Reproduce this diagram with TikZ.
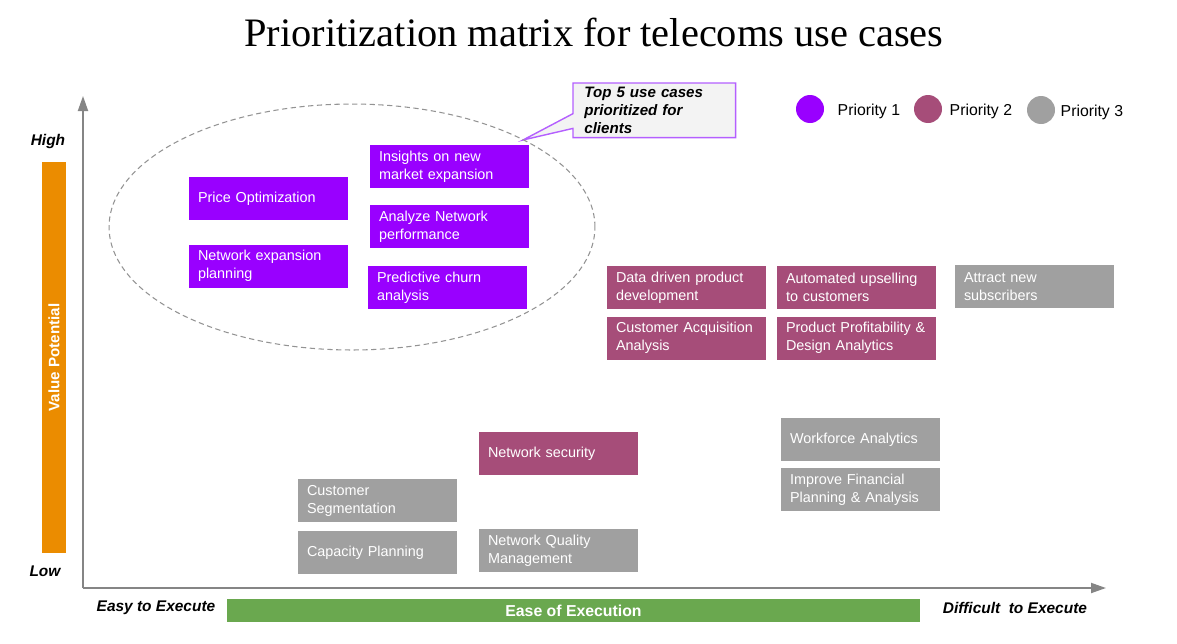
\documentclass[tikz,border=0pt]{standalone}
\usepackage{fontspec}
\setmainfont{Liberation Serif}
\setsansfont{Liberation Sans}
\usepackage{tikz}
\usetikzlibrary{positioning}
\usetikzlibrary{calc,backgrounds,arrows.meta}
\definecolor{prioone}{HTML}{9900FF}
\definecolor{priotwo}{HTML}{A64D79}
\definecolor{priothree}{HTML}{A0A0A0}
\definecolor{axisgray}{HTML}{858585}
\definecolor{valueorange}{HTML}{EB8C00}
\definecolor{easegreen}{HTML}{6AA84F}
\definecolor{calloutfill}{HTML}{F3F3F3}
\definecolor{calloutline}{HTML}{B45FFF}

\begin{document}
\begin{tikzpicture}[x=0.02cm,y=-0.02cm,>={Triangle[length=0.3cm,width=0.2cm]},
  usecase/.style={minimum width=3.18cm,minimum height=0.86cm,text width=2.82cm,
    inner xsep=0.18cm,inner ysep=0pt,align=left,text=white,
    font=\sffamily\fontsize{8.2}{10.2}\selectfont},
  prio1/.style={usecase,fill=prioone},
  prio2/.style={usecase,fill=priotwo},
  prio3/.style={usecase,fill=priothree},
  dot/.style={circle,minimum width=0.54cm,minimum height=0.56cm,inner sep=0pt},
  legendtext/.style={font=\sffamily\fontsize{9}{11}\selectfont,inner sep=0pt,yshift=-0.05cm},
  endlabel/.style={font=\sffamily\bfseries\itshape\fontsize{8.8}{10}\selectfont,inner sep=0pt},
  axis/.style={axisgray,line width=1.1pt}]
  \useasboundingbox (0,0) rectangle (1177,643);
  % title
  \node[font=\fontsize{23}{27}\selectfont] (title) at (594,32) {Prioritization matrix for telecoms use cases};
  % axes
  \coordinate (origin) at (83,588);
  \coordinate (ytip) at (83,96);
  \coordinate (xtip) at (1106,588);
  \draw[axis,->] (origin) -- (ytip);
  \draw[axis,->] (origin) -- (xtip);
  % axis bars and end labels
  \node[fill=valueorange,rotate=90,minimum width=7.82cm,minimum height=0.48cm,inner sep=0pt,
    text=white,font=\sffamily\bfseries\fontsize{8.6}{10}\selectfont] (value) at (54,357.5) {Value Potential};
  \node[fill=easegreen,minimum width=13.86cm,minimum height=0.46cm,inner sep=0pt,
    text=white,font=\sffamily\bfseries\fontsize{9}{10}\selectfont] (ease) at (573.5,610.5) {Ease of Execution};
  \node[endlabel] (high) at (48,141) {High};
  \node[endlabel] (low) at (45,571) {Low};
  \node[endlabel] (easy) at (156,608) {Easy to Execute};
  \node[endlabel] (difficult) at (1015,608) {Difficult~ to Execute};
  % legend
  \node[dot,fill=prioone] (dotone) at (810,109) {};
  \node[legendtext,right=0.26cm of dotone] (lblone) {Priority 1};
  \node[dot,fill=priotwo] (dottwo) at (928,109) {};
  \node[legendtext,right=0.14cm of dottwo] (lbltwo) {Priority 2};
  \node[dot,fill=priothree] (dotthree) at (1041,110) {};
  \node[legendtext,right=0.1cm of dotthree] (lblthree) {Priority 3};
  % top 5 group and its callout
  \draw[gray!85,dashed,dash pattern=on 3pt off 2pt,line width=0.6pt] (352,227) ellipse [x radius=4.86cm,y radius=2.46cm];
  \coordinate (tip) at (523,140);
  \node[minimum width=3.24cm,minimum height=1.08cm,text width=2.8cm,inner xsep=0.22cm,inner ysep=0pt,
    align=left,anchor=north west,font=\sffamily\bfseries\itshape\fontsize{8.6}{10.2}\selectfont] (top5) at (573,83)
    {Top 5 use cases\\prioritized for\\clients};
  \begin{scope}[on background layer]
    \draw[calloutline,fill=calloutfill,line width=0.8pt] (top5.north west) -- (top5.north east) -- (top5.south east)
      -- (top5.south west) -- ($(top5.south west)!0.17!(top5.north west)$) -- (tip)
      -- ($(top5.south west)!0.44!(top5.north west)$) -- cycle;
  \end{scope}
  % priority 1
  \node[prio1] (price) at (268.5,198.5) {Price Optimization};
  \node[prio1] (netexp) at (268.5,266) {Network expansion\\planning};
  \node[prio1] (insights) at (449.5,166.5) {Insights on new\\market expansion};
  \node[prio1] (analyze) at (449.5,226.5) {Analyze Network\\performance};
  \node[prio1] (churn) at (447.5,287.5) {Predictive churn\\analysis};
  % priority 2
  \node[prio2] (datadriven) at (686.5,287.5) {Data driven product\\development};
  \node[prio2] (upsell) at (856.5,287.5) {Automated upselling\\to customers};
  \node[prio2] (acquisition) at (686.5,338) {Customer Acquisition\\Analysis};
  \node[prio2] (profit) at (856.5,338) {Product Profitability \&\\Design Analytics};
  \node[prio2] (security) at (558.5,453.5) {Network security};
  % priority 3
  \node[prio3] (attract) at (1034.5,286.5) {Attract new\\subscribers};
  \node[prio3] (workforce) at (860.5,439.5) {Workforce Analytics};
  \node[prio3] (finance) at (860.5,489.5) {Improve Financial\\Planning \& Analysis};
  \node[prio3] (segment) at (377.5,500.5) {Customer\\Segmentation};
  \node[prio3] (capacity) at (377.5,552.5) {Capacity Planning};
  \node[prio3] (quality) at (558.5,550.5) {Network Quality\\Management};
\end{tikzpicture}
\end{document}
